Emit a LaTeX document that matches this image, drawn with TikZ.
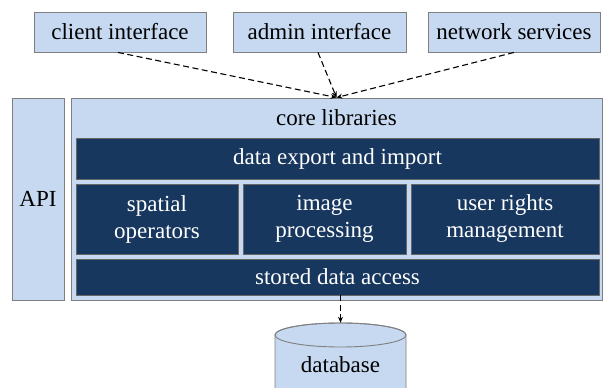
\documentclass[tikz,border=0pt]{standalone}
\usepackage{fontspec}
\newfontfamily\timesface{Liberation Serif}
\usepackage{tikz}
\usetikzlibrary{arrows.meta}
\definecolor{paleblue}{HTML}{C6D9F1}
\definecolor{navy}{HTML}{17375E}
\definecolor{rim}{HTML}{7F7F7F}
\tikzset{
	lightbox/.style={draw=rim, fill=paleblue, line width=0.9pt, inner sep=0pt},
	darkbox/.style={draw=black!60, fill=navy, text=white, line width=0.7pt, inner sep=0pt, align=center},
	flow/.style={dashed, dash pattern=on 6pt off 3.5pt, line width=1.1pt, -{Stealth[length=6pt,width=5pt]}}
}
\begin{document}
\begin{tikzpicture}[x=1pt, y=1pt, font=\timesface\fontsize{23}{27}\selectfont]
	\useasboundingbox (0,0) rectangle (603,388);
	% top row
	\node [lightbox, minimum width=172pt, minimum height=40pt] (client) at (120,356) {client interface};
	\node [lightbox, minimum width=173pt, minimum height=40pt] (admin) at (319.5,356) {admin interface};
	\node [lightbox, minimum width=172pt, minimum height=40pt] (network) at (514,356) {network services};
	% API and core
	\node [lightbox, minimum width=52pt, minimum height=202pt] (api) at (38,189) {API};
	\node [lightbox, minimum width=531pt, minimum height=202pt] (core) at (336.5,189) {};
	\node (corelabel) at (336.5,270) {core libraries};
	\node [darkbox, minimum width=523pt, minimum height=41pt] (export) at (337.5,229.5) {data export and import};
	\node [darkbox, minimum width=162pt, minimum height=70pt] (spatial) at (157,169) {spatial\\operators};
	\node [darkbox, minimum width=163pt, minimum height=70pt] (image) at (324.5,169) {image\\processing};
	\node [darkbox, minimum width=188pt, minimum height=70pt] (rights) at (505,169) {user rights\\management};
	\node [darkbox, minimum width=523pt, minimum height=36pt] (stored) at (337.5,111) {stored data access};
	% database
	\node [minimum width=131pt, minimum height=90pt, inner sep=0pt] (db) at (340.5,20) {};
	\filldraw [lightbox] (275,53) -- (275,-40) arc [start angle=180, end angle=360, x radius=65.5, y radius=12] -- (406,53)
		arc [start angle=0, end angle=180, x radius=65.5, y radius=12];
	\draw [lightbox, fill=none] (340.5,53) ellipse [x radius=65.5, y radius=12];
	\node (dblabel) at (340.5,23) {database};
	% connectors
	\draw [flow] (client.south) ++(-2,0) -- (core.north);
	\draw [flow] (admin.south) ++(-1.5,0) -- (core.north);
	\draw [flow] (network.south) -- (core.north);
	\draw [flow] (stored.south -| db.north) -- (db.north);
\end{tikzpicture}
\end{document}
